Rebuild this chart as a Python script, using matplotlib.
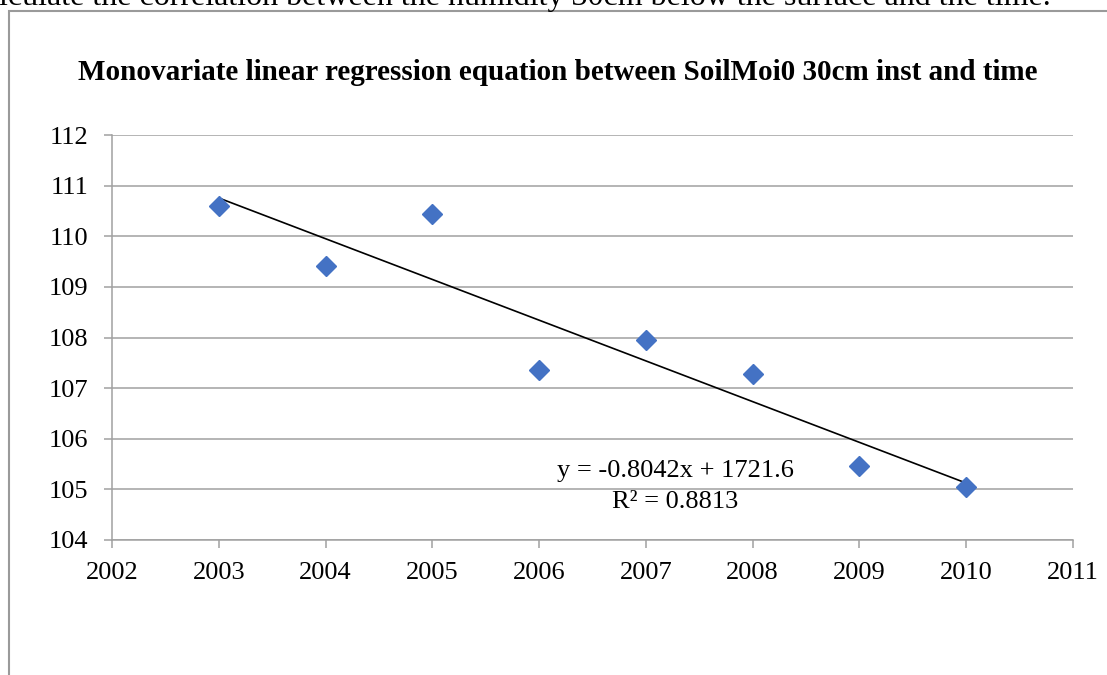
import matplotlib
matplotlib.use("Agg")
import matplotlib.pyplot as plt
import numpy as np
from matplotlib.patches import Rectangle

years = [2003, 2004, 2005, 2006, 2007, 2008, 2009, 2010]
soil_moisture = [110.60, 109.41, 110.44, 107.35, 107.95, 107.27, 105.46, 105.04]
x_ticks = list(range(2002, 2012))
y_ticks = list(range(104, 113))
title = "Monovariate linear regression equation between SoilMoi0 30cm inst and time"
header = "lculate the correlation between the humidity 30cm below the surface and the time."
eq_text = "y = -0.8042x + 1721.6"
r2_text = "R² = 0.8813"

plt.rcParams['font.family'] = ['Liberation Serif', 'DejaVu Serif']

W, H = 1107, 675
fig = plt.figure(figsize=(W / 100, H / 100), dpi=100)

def fx(px):
    return px / W

def fy(py):
    return 1 - py / H

# outer chart border
fig.patches.append(Rectangle((fx(9), fy(700)), fx(1120) - fx(9), fy(11) - fy(700),
                             transform=fig.transFigure, fill=False,
                             edgecolor='#9a9a9a', linewidth=1.5))

fig.text(fx(-1), fy(5), header, fontsize=23, va='baseline', ha='left', color='black')

ax = fig.add_axes([fx(112), fy(540), fx(1073) - fx(112), fy(135) - fy(540)])
ax.set_xlim(2002, 2011)
ax.set_ylim(104, 112)
ax.set_xticks(x_ticks)
ax.set_yticks(y_ticks)
ax.set_xticklabels([str(v) for v in x_ticks], fontsize=19)
ax.set_yticklabels([str(v) for v in y_ticks], fontsize=19)
ax.grid(axis='y', color='#a0a0a0', linewidth=1.1)
ax.set_axisbelow(True)
for s in ['top', 'right']:
    ax.spines[s].set_visible(False)
for s in ['left', 'bottom']:
    ax.spines[s].set_color('#a0a0a0')
    ax.spines[s].set_linewidth(1.1)
ax.tick_params(axis='both', direction='out', length=6, width=1.1, color='#a0a0a0')
ax.tick_params(axis='y', pad=11)
ax.tick_params(axis='x', pad=10)

# trend line
coef = np.polyfit(years, soil_moisture, 1)
xs = np.array([years[0], years[-1]])
ax.plot(xs, np.polyval(coef, xs), color='black', linewidth=1.2, zorder=3)

ax.plot(years, soil_moisture, linestyle='none', marker='D', markersize=10,
        color='#4472C4', zorder=4)

ax.text(fx(675), fy(477), eq_text, transform=fig.transFigure, fontsize=19,
        ha='center', va='baseline')
ax.text(fx(675), fy(508), r2_text, transform=fig.transFigure, fontsize=19,
        ha='center', va='baseline')

fig.text(fx(558), fy(80), title, fontsize=21, fontweight='bold', ha='center', va='baseline')

fig.savefig("out.png", dpi=100)
